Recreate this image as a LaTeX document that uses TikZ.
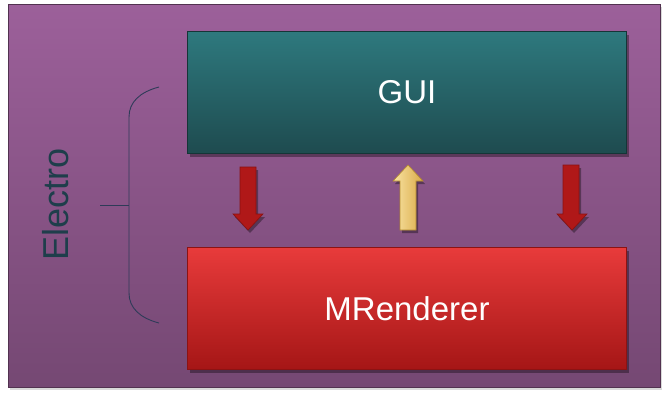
\documentclass[tikz,border=0pt]{standalone}
\usepackage{fontspec}
\setmainfont{Liberation Sans}
\usetikzlibrary{shadows}
\definecolor{bgtop}{HTML}{9C609A}
\definecolor{bgbot}{HTML}{754873}
\definecolor{guitop}{HTML}{2E797E}
\definecolor{guibot}{HTML}{1E4B4F}
\definecolor{redtop}{HTML}{E83B3B}
\definecolor{redbot}{HTML}{A51616}
\definecolor{arrred}{HTML}{B01818}
\definecolor{arrredline}{HTML}{8A1010}
\definecolor{yelL}{HTML}{F9E4A2}
\definecolor{yelR}{HTML}{D9A948}
\definecolor{yelline}{HTML}{B38A2E}
\definecolor{bracecol}{HTML}{2E3B58}
\definecolor{elcol}{HTML}{1E3E4B}
\tikzset{
  shad/.style={drop shadow={shadow xshift=2pt,shadow yshift=-3pt,opacity=0.35,fill=black}},
  lightshad/.style={drop shadow={shadow xshift=2pt,shadow yshift=-3pt,opacity=0.15,fill=black}},
  box/.style={rectangle, minimum width=439pt, minimum height=122pt, inner sep=0pt, shad,
    font=\fontsize{33}{40}\selectfont, text=white},
  redarrow/.style={fill=arrred, draw=arrredline, line width=0.6pt, shad},
  yelarrow/.style={left color=yelL, right color=yelR, draw=yelline, line width=0.6pt, shad},
}
\begin{document}
\begin{tikzpicture}[x=1pt,y=-1pt]
\useasboundingbox (0,0) rectangle (668,400);
\node[lightshad, rectangle, inner sep=0pt, minimum width=652pt, minimum height=383pt,
  top color=bgtop, bottom color=bgbot, draw=bgbot!70!black, line width=0.6pt] (outer) at (334,195.5) {};
\node[box, top color=guitop, bottom color=guibot, draw=guibot!70!black, line width=0.6pt] (gui) at (407,92.5) {GUI};
\node[box, top color=redtop, bottom color=redbot, draw=redbot!85!black, line width=0.6pt] (mr) at (407,308.5) {MRenderer};
% block arrows between the boxes
\draw[redarrow] (240,167) -- (256,167) -- (256,214) -- (263,214) -- (248,230) -- (233,214) -- (240,214) -- cycle;
\draw[yelarrow] (400,230) -- (416,230) -- (416,181) -- (423,181) -- (408,165) -- (393,181) -- (400,181) -- cycle;
\draw[redarrow] (563,165) -- (579,165) -- (579,214) -- (587,214) -- (572,230) -- (557,214) -- (563,214) -- cycle;
% brace
\coordinate (bt) at (159,87);
\coordinate (bb) at (159,323);
\coordinate (bm) at (129,205);
\coordinate (bl) at (100,205);
\draw[bracecol, line width=0.9pt] (bt) .. controls (140,92) and (129,102) .. (129,117) -- (129,293) .. controls (129,308) and (140,318) .. (bb);
\draw[bracecol, line width=0.9pt] (bl) -- (bm);
\node[rotate=90, text=elcol, font=\fontsize{36}{40}\selectfont, inner sep=0pt] (el) at (56,204) {Electro};
\end{tikzpicture}
\end{document}
